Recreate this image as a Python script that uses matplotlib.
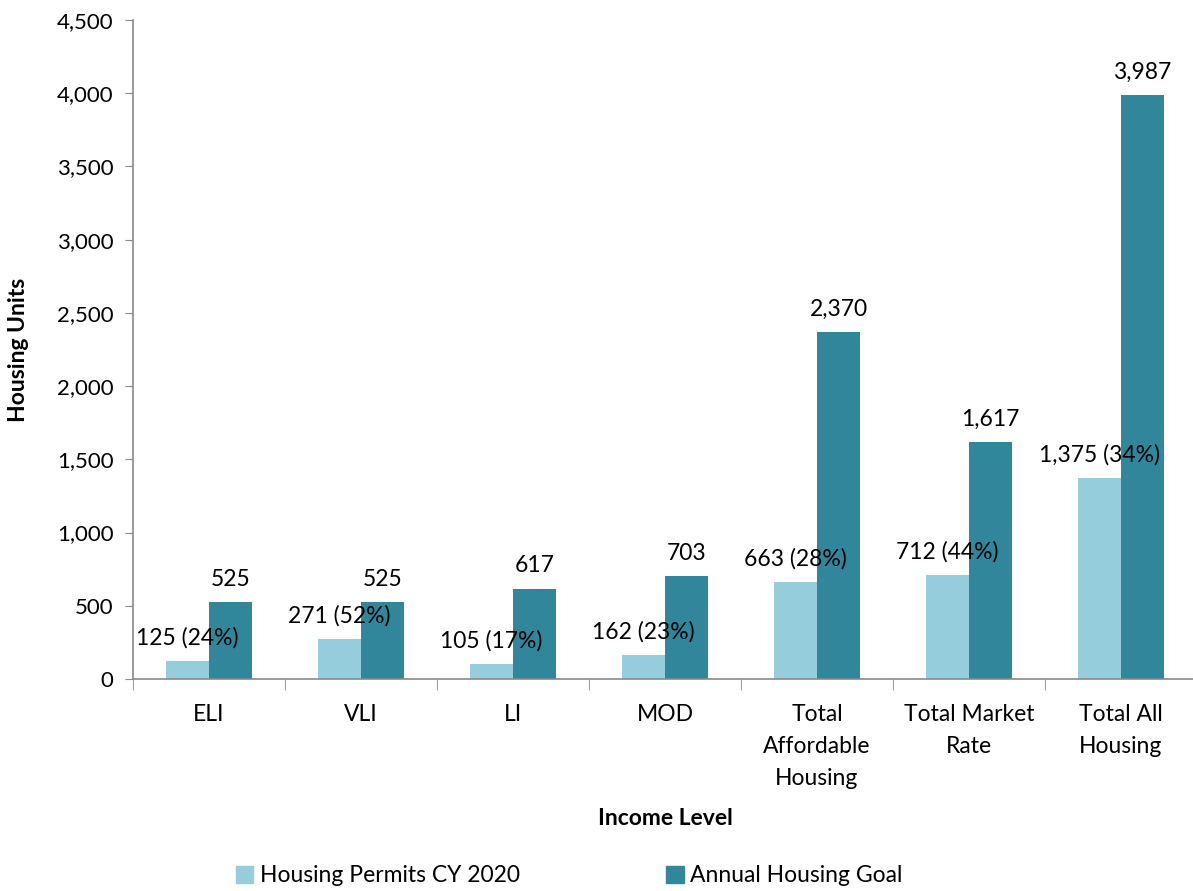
import numpy as np
import matplotlib
matplotlib.use('Agg')
import matplotlib.pyplot as plt
from matplotlib.patches import Patch

plt.rcParams['font.family'] = ['Lato', 'DejaVu Sans']

categories = ['ELI', 'VLI', 'LI', 'MOD', 'Total\nAffordable\nHousing',
              'Total Market\nRate', 'Total All\nHousing']
permits = [125, 271, 105, 162, 663, 712, 1375]
goal = [525, 525, 617, 703, 2370, 1617, 3987]
pct = ['24%', '52%', '17%', '23%', '28%', '44%', '34%']

c_light = '#96CDDC'
c_dark = '#31869B'
grey = '#898989'

W, H = 1193, 891
fig = plt.figure(figsize=(W / 100, H / 100), dpi=100)
ax = fig.add_axes([133 / W, 1 - 679 / H, 1064 / W, 659 / H])

x = np.arange(len(categories))
w = 0.283
ax.bar(x - w / 2, permits, w, color=c_light, label='Housing Permits CY 2020')
ax.bar(x + w / 2, goal, w, color=c_dark, label='Annual Housing Goal')

fs = 16.5
for i in range(len(x)):
    ax.annotate('{:,} ({})'.format(permits[i], pct[i]), (x[i] - w / 2, permits[i]),
                xytext=(0, 9), textcoords='offset points', ha='center', va='bottom',
                fontsize=fs)
    ax.annotate('{:,}'.format(goal[i]), (x[i] + w / 2, goal[i]),
                xytext=(0, 9), textcoords='offset points', ha='center', va='bottom',
                fontsize=fs)

ax.set_xlim(-0.5, len(x) - 0.5)
ax.set_ylim(0, 4500)
ax.set_yticks(np.arange(0, 4501, 500))
ax.set_yticklabels(['{:,}'.format(v) for v in range(0, 4501, 500)], fontsize=16)
ax.set_xticks(x)
ax.set_xticklabels(categories, fontsize=fs, linespacing=1.66)
ax.set_xticks(np.arange(-0.5, len(x), 1), minor=True)
ax.tick_params(axis='x', which='major', length=0, pad=18)
ax.tick_params(axis='x', which='minor', length=8, color=grey, direction='out')
ax.tick_params(axis='y', length=6, color=grey, direction='out', pad=8)

for s in ['top', 'right']:
    ax.spines[s].set_visible(False)
for s in ['left', 'bottom']:
    ax.spines[s].set_color(grey)
    ax.spines[s].set_linewidth(1.2)

ax.set_ylabel('Housing Units', fontsize=fs, fontweight='bold')
ax.yaxis.set_label_coords(-104 / 1064, 0.5)
ax.set_xlabel('Income Level', fontsize=fs, fontweight='bold')
ax.xaxis.set_label_coords((665 - 133) / 1064, -(808 - 679) / 659)

handles = [Patch(color=c_light), Patch(color=c_dark)]
fig.legend(handles, ['Housing Permits CY 2020', 'Annual Housing Goal'],
           loc='center left', bbox_to_anchor=(215 / W, 1 - 876 / H), ncol=2,
           frameon=False, fontsize=fs, handlelength=0.75, handleheight=0.75,
           handletextpad=0.3, columnspacing=6.4)

fig.savefig('out.png', dpi=100)
